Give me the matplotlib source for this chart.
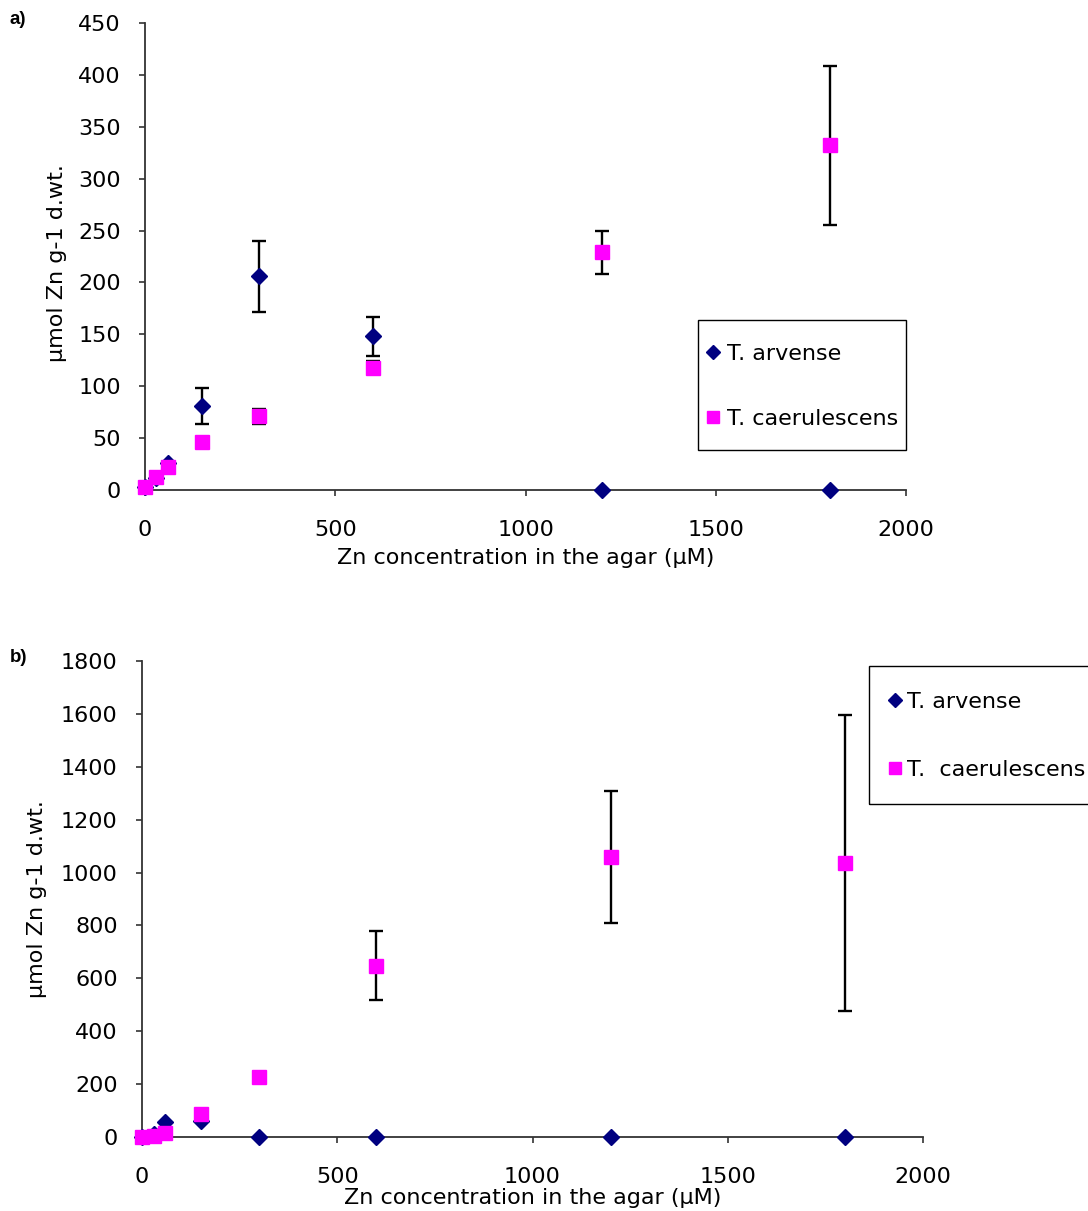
import matplotlib
matplotlib.use('Agg')
import matplotlib.pyplot as plt
from matplotlib.patches import Rectangle
import numpy as np

plt.rcParams['font.family'] = ['DejaVu Sans']

# Zn in agar (uM)
conc = np.array([0, 30, 60, 150, 300, 600, 1200, 1800])

# panel a (umol Zn g-1 d.wt.)
arv_a = np.array([3, 12, 26, 81, 206, 148, 0, 0])
arv_a_err = np.array([0, 0, 0, 17, 34, 19, 0, 0])
cae_a = np.array([3, 13, 22, 46, 71, 118, 229, 332])
cae_a_err = np.array([0, 0, 0, 0, 7, 6, 21, 77])

# panel b
arv_b = np.array([0, 12, 57, 62, 0, 0, 0, 0])
arv_b_err = np.array([0, 0, 0, 0, 0, 0, 0, 0])
cae_b = np.array([0, 5, 17, 87, 227, 648, 1060, 1035])
cae_b_err = np.array([0, 0, 0, 0, 0, 130, 250, 560])

W, H = 1088, 1211
fig = plt.figure(figsize=(W / 100, H / 100), dpi=100)
FS = 16


def px(x, y):
    # pixel position -> figure fraction
    return x / W, 1 - y / H


def draw(ax, arv, arv_err, cae, cae_err, ymax, ystep):
    # error bars first, markers on top
    for y, e in [(arv, arv_err), (cae, cae_err)]:
        m = e > 0
        ax.errorbar(conc[m], y[m], yerr=e[m], fmt='none', ecolor='black',
                    elinewidth=1.7, capsize=4.7, capthick=1.7, zorder=2, clip_on=False)
    l1, = ax.plot(conc, arv, linestyle='none', marker='D', color='#000080',
                  markersize=8, zorder=3, clip_on=False)
    l2, = ax.plot(conc, cae, linestyle='none', marker='s', color='#FF00FF',
                  markersize=10.5, zorder=4, clip_on=False)
    ax.set_xlim(0, 2000)
    ax.set_ylim(0, ymax)
    ax.set_xticks(np.arange(0, 2001, 500))
    ax.set_yticks(np.arange(0, ymax + 1, ystep))
    ax.spines['top'].set_visible(False)
    ax.spines['right'].set_visible(False)
    for s in ['left', 'bottom']:
        ax.spines[s].set_color('#333333')
        ax.spines[s].set_linewidth(1.3)
    ax.tick_params(axis='both', direction='out', length=4.5, width=1.2,
                   labelsize=FS, colors='#333333', labelcolor='black')
    ax.tick_params(axis='x', pad=17)
    ax.tick_params(axis='y', pad=13)
    ax.set_ylabel('µmol Zn g-1 d.wt.', fontsize=FS)
    ax.set_xlabel('Zn concentration in the agar (µM)', fontsize=FS)
    return [l1, l2]


def legend(ax, handles, labels, x0, ytop, spacing, textpad):
    leg = ax.legend(handles, labels, loc='upper left', bbox_to_anchor=px(x0, ytop),
                    bbox_transform=fig.transFigure, fontsize=FS, frameon=False,
                    handlelength=0.6, handletextpad=textpad, labelspacing=spacing,
                    borderpad=0, borderaxespad=0, markerscale=0.85)
    return leg


def frame(x0, y0, x1, y1):
    fx0, fy1 = px(x0, y0)
    fx1, fy0 = px(x1, y1)
    fig.patches.append(Rectangle((fx0, fy0), fx1 - fx0, fy1 - fy0, transform=fig.transFigure,
                                 fill=False, edgecolor='black', linewidth=1.0))


ax1 = fig.add_axes([145 / W, 1 - 490 / H, 761 / W, 467 / H])
h1 = draw(ax1, arv_a, arv_a_err, cae_a, cae_a_err, 450, 50)
ax1.yaxis.set_label_coords(-0.103, 0.486)
ax1.xaxis.set_label_coords(0.5, -0.125)
legend(ax1, h1, ['T. arvense', 'T. caerulescens'], 706, 344, 2.02, 0.35)
frame(698, 320, 906, 450)

ax2 = fig.add_axes([142 / W, 1 - 1137 / H, 781 / W, 476 / H])
h2 = draw(ax2, arv_b, arv_b_err, cae_b, cae_b_err, 1800, 200)
ax2.yaxis.set_label_coords(-0.122, 0.5)
ax2.xaxis.set_label_coords(0.5, -0.108)
legend(ax2, h2, ['T. arvense', 'T.  caerulescens'], 888, 692, 2.17, 0.27)
frame(869, 666, 1100, 804)

fig.text(*px(10, 20), 'a)', fontsize=13.5, fontweight='bold', va='center',
         family='Liberation Sans')
fig.text(*px(10, 658), 'b)', fontsize=13.5, fontweight='bold', va='center',
         family='Liberation Sans')

fig.savefig('out.png', dpi=100)
